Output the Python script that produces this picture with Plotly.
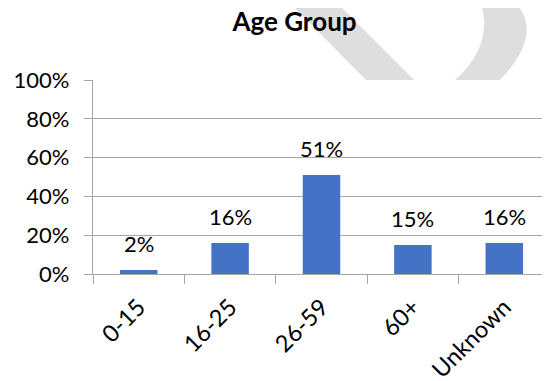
import plotly.graph_objects as go

categories = ["0-15", "16-25", "26-59", "60+", "Unknown"]
values = [0.02, 0.16, 0.51, 0.15, 0.16]
value_labels = ["2%", "16%", "51%", "15%", "16%"]
y_tick_vals = [0, 0.2, 0.4, 0.6, 0.8, 1.0]
y_tick_text = ["0%", "20%", "40%", "60%", "80%", "100%"]

# the page body adds an 8px offset; compensate so the figure lands on the window
OFF = 8
W, H = 550 - OFF, 381 - OFF
ML, MR, MT = 93 - OFF, 0, 80 - OFF
MB = H - MT - 194
PW, PH = W - ML - MR, H - MT - MB

def px(x, y):
    # screen pixel -> paper coords
    x -= OFF
    y -= OFF
    return (x - ML) / PW, (H - MB - y) / PH

def path(cmds):
    out = []
    for c in cmds:
        if isinstance(c, str):
            out.append(c)
        else:
            a, b = px(*c)
            out.append(f"{a:.4f},{b:.4f}")
    return " ".join(out)

font = "Lato, Carlito, Calibri, sans-serif"
grey = "#a6a6a6"
wm = "#dedede"

fig = go.Figure()
fig.add_trace(go.Bar(
    x=categories, y=values,
    marker=dict(color="#4472C4", line=dict(width=0)),
    width=0.41, hoverinfo="skip",
))

for c, v, t in zip(categories, values, value_labels):
    fig.add_annotation(x=c, y=v, text=t, showarrow=False, yanchor="bottom",
                       yshift=11, font=dict(family=font, size=22, color="#000"))

# background watermark (screen pixel outline)
band = path(["M", (287, 0), "L", (334, 0), "L", (414, 80), "L", (366, 80), "Z"])
arc = path(["M", (480, 0), "Q", (495, 45), (455, 80), "L", (500, 80),
            "Q", (546, 32), (513, 0), "Z"])
for p in (band, arc):
    fig.add_shape(type="path", path=p, xref="paper", yref="paper",
                  fillcolor=wm, line=dict(width=0), layer="below")

fig.update_layout(
    width=W, height=H,
    margin=dict(l=ML, r=MR, t=MT, b=MB, autoexpand=False),
    paper_bgcolor="white", plot_bgcolor="rgba(0,0,0,0)",
    showlegend=False,
    title=dict(text="<b>Age Group</b>", x=(294.5 - OFF) / W, y=1 - (22 - OFF) / H,
               xref="container", yref="container",
               xanchor="center", yanchor="middle",
               font=dict(family=font, size=26, color="#000")),
    bargap=0.59,
)
fig.update_xaxes(
    type="category", range=[-0.5, 4.5], automargin=False,
    tickson="boundaries", ticks="outside", ticklen=9, tickcolor=grey, tickwidth=1.3,
    showline=True, linecolor=grey, linewidth=1.3,
    showgrid=False, tickangle=-45, ticklabelstandoff=9,
    tickfont=dict(family=font, size=23.5, color="#000"),
)
fig.update_yaxes(
    range=[0, 1], tickvals=y_tick_vals, ticktext=y_tick_text, automargin=False,
    showgrid=True, gridcolor=grey, gridwidth=1.3,
    showline=True, linecolor=grey, linewidth=1.3,
    ticks="outside", ticklen=8, tickcolor=grey, tickwidth=1.3,
    ticklabelstandoff=10, zeroline=False,
    tickfont=dict(family=font, size=22, color="#000"),
)

fig.write_html("out.html")
